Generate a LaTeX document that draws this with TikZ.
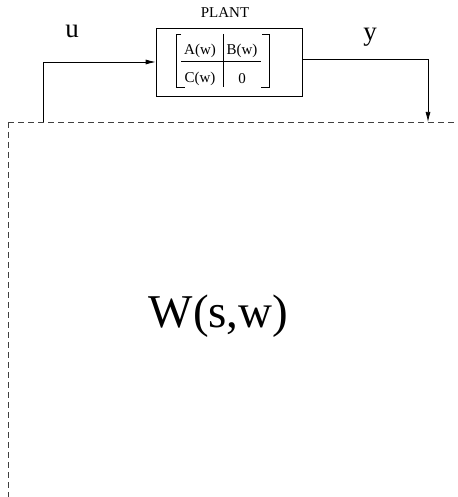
\documentclass[tikz,border=0pt]{standalone}
\usepackage{fontspec}
\setmainfont{Liberation Serif}
\usetikzlibrary{arrows.meta}
\begin{document}
\begin{tikzpicture}[x=1pt,y=-1pt,line width=0.75pt,
  blk/.style={draw,minimum width=146pt,minimum height=68pt,inner sep=0pt},
  ent/.style={font=\fontsize{15}{18}\selectfont,inner sep=0pt},
  sig/.style={font=\fontsize{27}{32}\selectfont,inner sep=0pt,anchor=base},
  wire/.style={-{Latex[length=10pt,width=5pt]}},
  sysbd/.style={dash pattern=on 6pt off 4pt,black!75}]
\useasboundingbox (0,0) rectangle (457,497);
\node[blk] (plant) at (229,62) {};
\node[ent,anchor=base] (plantlbl) at (225,18) {PLANT};
\node[ent] (a) at (200,51) {A(w)};
\node[ent] (b) at (242,51) {B(w)};
\node[ent] (c) at (200,79) {C(w)};
\node[ent] (d) at (242,79) {0};
% matrix brackets and rules
\draw (181,34) -- (176,34) -- (176,87) -- (185,87);
\draw (262,34) -- (269,34) -- (269,87) -- (261,87);
\draw (181,61) -- (261,61);
\draw (223,34) -- (223,87);
% W(s,w) system boundary
\coordinate (wtl) at (8,122);
\coordinate (uin) at (43,122);
\coordinate (yout) at (428,122);
\draw[sysbd] (wtl) -- (457,122);
\draw[sysbd] (wtl) -- (8,497);
\node[font=\fontsize{47}{56}\selectfont,inner sep=0pt,anchor=base] (wsys) at (218.5,327) {W(s,w)};
\draw[wire] (uin) |- (plant.west);
\draw[wire] ([yshift=3pt]plant.east) -| (yout);
\node[sig] (ulbl) at (72,38) {u};
\node[sig] (ylbl) at (370,41) {y};
\end{tikzpicture}
\end{document}
